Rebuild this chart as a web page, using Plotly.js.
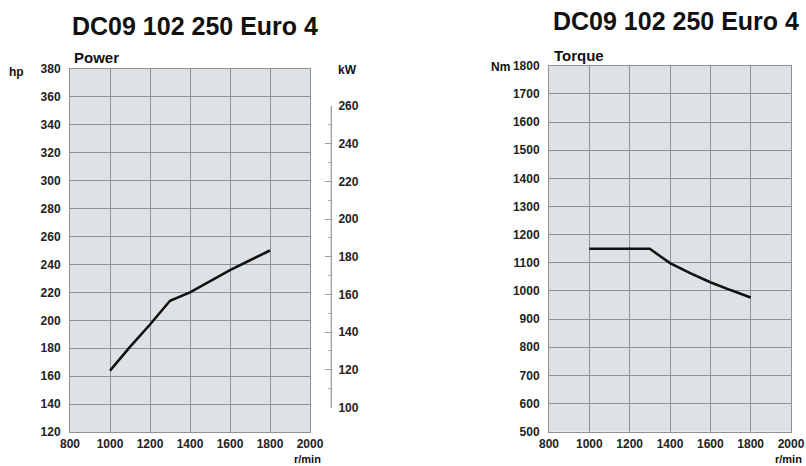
<!DOCTYPE html>
<html>
<head>
<meta charset="utf-8">
<script src="https://cdn.plot.ly/plotly-3.0.1.min.js"></script>
<style>html,body{margin:0;padding:0;background:#fff;}#chart{width:806px;height:466px;}</style>
</head>
<body>
<div id="chart"></div>
<script>
// ---- data ----
const chartTitle = 'DC09 102 250 Euro 4';
const rpmPower = [1000, 1100, 1200, 1300, 1400, 1500, 1600, 1700, 1800];
const powerHp = [164, 181, 197, 214, 220, 228, 236, 243, 250];
const rpmTorque = [1000, 1300, 1350, 1400, 1500, 1600, 1700, 1800];
const torqueNm = [1150, 1150, 1124, 1099, 1063, 1031, 1003, 977];
const rpmTicks = [800, 1000, 1200, 1400, 1600, 1800, 2000];
const hpTicks = [120, 140, 160, 180, 200, 220, 240, 260, 280, 300, 320, 340, 360, 380];
const kwTicks = [100, 120, 140, 160, 180, 200, 220, 240, 260];
const kwMinorTicks = [110, 130, 150, 170, 190, 210, 230, 250];
const nmTicks = [500, 600, 700, 800, 900, 1000, 1100, 1200, 1300, 1400, 1500, 1600, 1700, 1800];

// ---- layout helpers ----
const W = 806, H = 466;
const px = v => v / W;
const py = v => 1 - v / H;
const FONT = 'Liberation Sans, Arial, sans-serif';
const tickFont = {family: FONT, size: 12, color: '#222', weight: 'bold'};
const gridC = '#8e9296';

const baseX = {
  tickvals: rpmTicks, showgrid: true, gridcolor: gridC, gridwidth: 1,
  showline: true, mirror: true, linecolor: gridC, linewidth: 1,
  zeroline: false, ticks: '', tickfont: tickFont, ticklabelstandoff: 1, fixedrange: true
};
const baseY = {
  showgrid: true, gridcolor: gridC, gridwidth: 1,
  showline: true, mirror: true, linecolor: gridC, linewidth: 1,
  zeroline: false, ticks: '', tickfont: tickFont, ticklabelstandoff: 6, fixedrange: true
};

const traces = [
  {x: rpmPower, y: powerHp, xaxis: 'x', yaxis: 'y', mode: 'lines',
   line: {color: '#111', width: 2.6}, hoverinfo: 'skip', showlegend: false},
  {x: rpmTorque, y: torqueNm, xaxis: 'x2', yaxis: 'y2', mode: 'lines',
   line: {color: '#111', width: 2.6}, hoverinfo: 'skip', showlegend: false},
  // invisible carrier so the kW scale axis is drawn
  {x: kwTicks.map(() => 0), y: kwTicks, xaxis: 'x3', yaxis: 'y3', mode: 'none',
   hoverinfo: 'skip', showlegend: false}
];

const annot = (text, x, y, size, xanchor, extra) => Object.assign({
  text: text, xref: 'paper', yref: 'paper', x: px(x), y: py(y),
  xanchor: xanchor || 'center', yanchor: 'middle', showarrow: false,
  font: {family: FONT, size: size, color: '#111', weight: 'bold'}
}, extra || {});

const layout = {
  width: W, height: H,
  margin: {l: 0, r: 0, t: 0, b: 0},
  paper_bgcolor: '#ffffff',
  plot_bgcolor: '#dfe2e4',
  showlegend: false,
  xaxis: Object.assign({}, baseX, {domain: [px(70), px(310)], range: [800, 2000], anchor: 'y'}),
  yaxis: Object.assign({}, baseY, {domain: [py(432), py(69)], range: [120, 380], tickvals: hpTicks, anchor: 'x'}),
  xaxis2: Object.assign({}, baseX, {domain: [px(549), px(791)], range: [800, 2000], anchor: 'y2'}),
  yaxis2: Object.assign({}, baseY, {domain: [py(431.7), py(65.7)], range: [500, 1800], tickvals: nmTicks, anchor: 'x2'}),
  xaxis3: {domain: [px(330), px(331)], range: [-1, 1], anchor: 'y3', visible: false, fixedrange: true},
  yaxis3: {
    domain: [py(407.5), py(106)], range: [100, 260], anchor: 'x3', side: 'right',
    tickvals: kwTicks, showgrid: false, zeroline: false,
    showline: true, linecolor: '#9a9ea2', linewidth: 1,
    ticks: 'inside', ticklen: 6, tickcolor: '#9a9ea2', tickwidth: 1,
    minor: {tickvals: kwMinorTicks, ticks: 'inside', ticklen: 3, tickcolor: '#a8acb0', showgrid: false},
    tickfont: tickFont, ticklabelstandoff: 4, fixedrange: true
  },
  annotations: [
    annot(chartTitle, 195, 26, 25),
    annot(chartTitle, 676, 21, 25),
    annot('Power', 72, 58, 15, 'left'),
    annot('Torque', 552, 55, 15, 'left'),
    annot('hp', 16, 72, 12),
    annot('kW', 347, 70, 12),
    annot('Nm', 500, 67, 12),
    annot('r/min', 307, 466, 11, 'center', {yanchor: 'bottom', borderpad: 0}),
    annot('r/min', 788, 466, 11, 'center', {yanchor: 'bottom', borderpad: 0})
  ]
};

Plotly.newPlot('chart', traces, layout, {staticPlot: true, displayModeBar: false});
</script>
</body>
</html>
